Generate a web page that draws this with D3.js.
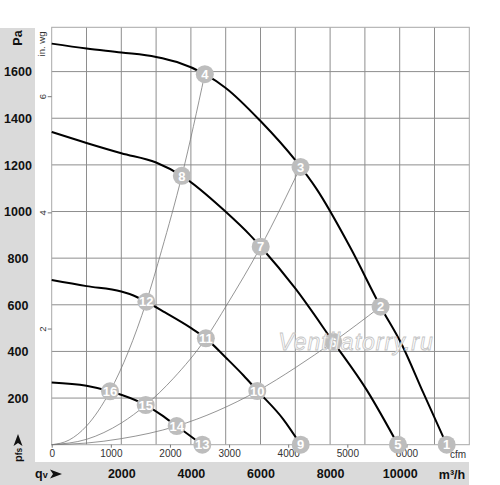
<!DOCTYPE html>
<html>
<head>
<meta charset="utf-8">
<script src="https://cdn.jsdelivr.net/npm/d3@7"></script>
<style>
  body { margin: 0; background: #fff; }
  text { font-family: "Liberation Sans", Arial, sans-serif; }
</style>
</head>
<body>
<svg width="500" height="485"></svg>
<script>
const width = 500, height = 485;

// axis ticks
const flowTicks = [2000, 4000, 6000, 8000, 10000];       // m³/h, bottom band
const pressureTicks = [200, 400, 600, 800, 1000, 1200, 1400, 1600]; // Pa, left band
const cfmTicks = [0, 1000, 2000, 3000, 4000, 5000, 6000];
const inwgTicks = [2, 4, 6];
const gridFlow = [1000, 2000, 3000, 4000, 5000, 6000, 7000, 8000, 9000, 10000, 11000];

// fan curves [m³/h, Pa]
const fanCurve1 = [[0, 1720], [1000, 1699], [2000, 1682], [3000, 1663], [3600, 1641], [4400, 1589],
    [5000, 1530], [6000, 1388], [7000, 1220], [7600, 1099], [8600, 840], [9450, 592],
    [10060, 430], [10680, 222], [11350, 0]];
const fanCurve2 = [[0, 1341], [1000, 1294], [2000, 1250], [3000, 1210], [3740, 1153], [5000, 999],
    [5700, 899], [6006, 849], [7000, 670], [8090, 441], [9050, 235], [9950, 0]];
const fanCurve3 = [[0, 706], [1000, 680], [2000, 657], [2350, 640], [2720, 613], [3256, 567],
    [3974, 503], [4430, 456], [5029, 370], [5506, 298], [5908, 232], [6650, 110], [7155, 0]];
const fanCurve4 = [[0, 267], [1000, 253], [1675, 229], [2701, 170], [3160, 127], [3592, 80], [4328, 0]];

// system curves (thin grey) [m³/h, Pa]
const sysCurveA = [[0, 0], [500, 20], [1000, 80], [1675, 229], [2200, 398], [2720, 613],
    [3160, 834], [3740, 1153], [4400, 1589]];
const sysCurveB = [[0, 0], [1000, 23], [2000, 93], [2701, 170], [3500, 285], [4430, 456],
    [5030, 599], [6006, 849], [7150, 1191]];
const sysCurveC = [[0, 0], [1000, 7], [2000, 26], [3592, 80], [5908, 230], [7000, 330],
    [8090, 441], [9450, 592]];

// numbered operating points
const markerIds = [1, 2, 3, 4, 5, 6, 7, 8, 9, 10, 11, 12, 13, 14, 15, 16];
const markerFlow = [11350, 9450, 7150, 4400, 9950, 8090, 6006, 3740, 7155, 5908, 4430, 2720, 4328, 3592, 2701, 1675];
const markerPressure = [0, 592, 1191, 1589, 0, 441, 849, 1153, 0, 230, 456, 613, 0, 80, 170, 229];

const PA_PER_INWG = 249.09, M3H_PER_CFM = 1.699;
const flowMax = 12000, paMax = 1790;

const svg = d3.select("svg");
const x = d3.scaleLinear([0, flowMax], [51.7, 469.3]);
const y = d3.scaleLinear([0, paMax], [444.7, 27.3]);
const xCfm = d3.scaleLinear([0, flowMax / M3H_PER_CFM], [51.7, 469.3]);
const yInwg = d3.scaleLinear([0, paMax / PA_PER_INWG], [444.7, 27.3]);
const plain = d3.format("d");

// grey bands
svg.append("rect").attr("x", 0).attr("y", 28).attr("width", 35).attr("height", height - 28).attr("fill", "#dadada");
svg.append("rect").attr("x", 0).attr("y", 462).attr("width", 469).attr("height", 23).attr("fill", "#dadada");

// grid
const grid = svg.append("g").attr("stroke", "#8e8e8e").attr("stroke-width", 1);
grid.selectAll(".vx").data(gridFlow).enter().append("line")
    .attr("x1", d => x(d)).attr("x2", d => x(d)).attr("y1", y(paMax)).attr("y2", y(0));
grid.selectAll(".hy").data(pressureTicks).enter().append("line")
    .attr("x1", x(0)).attr("x2", x(flowMax)).attr("y1", d => y(d)).attr("y2", d => y(d));
svg.append("rect")
    .attr("x", x(0)).attr("y", y(paMax))
    .attr("width", x(flowMax) - x(0)).attr("height", y(0) - y(paMax))
    .attr("fill", "none").attr("stroke", "#a8a8a8").attr("stroke-width", 1);

// Pa axis in the left band
const paAxis = svg.append("g").attr("transform", "translate(18,0)")
    .call(d3.axisLeft(y).tickValues(pressureTicks).tickFormat(plain).tickSize(0).tickPadding(0));
paAxis.select(".domain").remove();
paAxis.selectAll("text").attr("text-anchor", "middle").attr("dy", "0.35em")
    .style("font-size", "12.5px").style("font-weight", "bold").attr("fill", "#111");

// m³/h axis in the bottom band
const flowAxis = svg.append("g").attr("transform", "translate(0,474)")
    .call(d3.axisBottom(x).tickValues(flowTicks).tickFormat(plain).tickSize(0).tickPadding(0));
flowAxis.select(".domain").remove();
flowAxis.selectAll("text").attr("dy", "0.35em")
    .style("font-size", "12.5px").style("font-weight", "bold").attr("fill", "#111");

// cfm axis under the plot
const cfmAxis = svg.append("g").attr("transform", `translate(0,${y(0)})`)
    .call(d3.axisBottom(xCfm).tickValues(cfmTicks).tickFormat(plain).tickSize(3).tickPadding(2));
cfmAxis.select(".domain").remove();
cfmAxis.selectAll("line").attr("stroke", "#777");
cfmAxis.selectAll("text").style("font-size", "10px").attr("fill", "#333");

// in. wg axis on the left of the plot, rotated labels
const inwgAxis = svg.append("g").attr("transform", `translate(${x(0)},0)`)
    .call(d3.axisLeft(yInwg).tickValues(inwgTicks).tickSize(4).tickPadding(0));
inwgAxis.select(".domain").remove();
inwgAxis.selectAll("line").attr("stroke", "#777");
inwgAxis.selectAll("text")
    .attr("x", 0).attr("dy", 0).attr("text-anchor", "middle")
    .attr("transform", "translate(-6,0) rotate(-90)")
    .style("font-size", "9.5px").attr("fill", "#333");

// unit labels
svg.append("text").attr("transform", "translate(22,38) rotate(-90)")
    .attr("text-anchor", "middle").style("font-size", "12.5px").style("font-weight", "bold")
    .attr("fill", "#111").text("Pa");
svg.append("text").attr("transform", "translate(45,44) rotate(-90)")
    .attr("text-anchor", "middle").style("font-size", "9.5px").attr("fill", "#333").text("in. wg");
svg.append("text").attr("x", 458).attr("y", 458).attr("text-anchor", "middle")
    .style("font-size", "10px").attr("fill", "#333").text("cfm");
svg.append("text").attr("x", 452).attr("y", 478.5).attr("text-anchor", "middle")
    .style("font-size", "12.5px").style("font-weight", "bold").attr("fill", "#111").text("m³/h");

// qv with arrow
const qv = svg.append("text").attr("x", 35).attr("y", 477.5)
    .style("font-size", "12.5px").style("font-weight", "bold").attr("fill", "#111");
qv.append("tspan").text("q");
qv.append("tspan").style("font-size", "9px").text("v");
svg.append("path").attr("d", "M50,469.5 L62,474 L50,478.5 L53,474 Z").attr("fill", "#111");

// pfs with arrow (rotated)
const pfs = svg.append("text").attr("transform", "translate(22,462) rotate(-90)")
    .style("font-size", "11px").style("font-weight", "bold").attr("fill", "#111");
pfs.append("tspan").text("p");
pfs.append("tspan").style("font-size", "8.5px").text("fs");
svg.append("path").attr("d", "M13.5,446 L18,434 L22.5,446 L18,443 Z").attr("fill", "#111");

// curves
const line = d3.line().x(d => x(d[0])).y(d => y(d[1])).curve(d3.curveMonotoneX);

svg.selectAll(".sys").data([sysCurveA, sysCurveB, sysCurveC]).enter().append("path")
    .attr("class", "sys").attr("d", line)
    .attr("fill", "none").attr("stroke", "#7a7a7a").attr("stroke-width", 0.8);

svg.selectAll(".fan").data([fanCurve1, fanCurve2, fanCurve3, fanCurve4]).enter().append("path")
    .attr("class", "fan").attr("d", line)
    .attr("fill", "none").attr("stroke", "#000").attr("stroke-width", 2);

// numbered markers
const markers = svg.selectAll(".marker").data(markerIds).enter().append("g")
    .attr("class", "marker")
    .attr("transform", (d, i) => `translate(${x(markerFlow[i])},${y(markerPressure[i])})`);
markers.append("circle").attr("r", 9).attr("fill", "#bdbdbd");
markers.append("text").attr("text-anchor", "middle").attr("dy", "0.36em")
    .style("font-size", "13px").style("font-weight", "bold").attr("fill", "#fff")
    .text(d => d);

// watermark
svg.append("text").attr("x", 356).attr("y", 349.5).attr("text-anchor", "middle")
    .style("font-size", "23px").style("font-style", "italic").style("letter-spacing", "1px")
    .attr("fill", "#fff").attr("fill-opacity", 0.85)
    .attr("stroke", "#c4c4c4").attr("stroke-width", 0.8)
    .text("Ventilatorry.ru");
</script>
</body>
</html>
